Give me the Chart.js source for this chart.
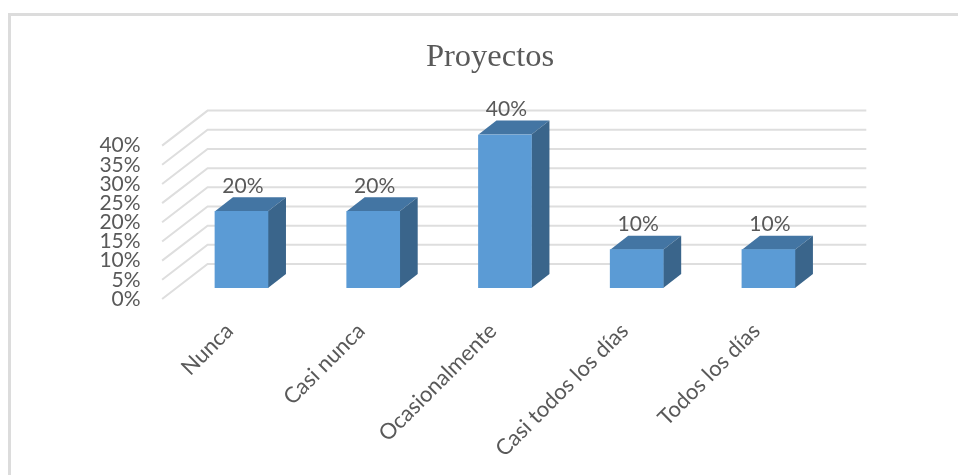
<!DOCTYPE html>
<html>
<head>
<meta charset="utf-8">
<script src="https://cdn.jsdelivr.net/npm/chart.js@4"></script>
<style>
  html, body { margin: 0; background: #fff; }
  #wrap { position: relative; width: 958px; height: 475px; overflow: hidden; }
  #frame { position: absolute; left: 8px; top: 13px; width: 960px; height: 480px;
           border-left: 3px solid #dcdcdc; border-top: 3px solid #dcdcdc; }
</style>
</head>
<body>
<div id="wrap">
  <div id="frame"></div>
  <canvas id="chart" width="958" height="475"></canvas>
</div>
<script>
const categories = ['Nunca', 'Casi nunca', 'Ocasionalmente', 'Casi todos los días', 'Todos los días'];
const values = [20, 20, 40, 10, 10];
const chartTitle = 'Proyectos';

const textColor = '#595959';
const gridColor = '#dedede';

// desplazamiento de la "profundidad" 3D
const barDepthX = 18, barDepthY = 14;
const wallBack = { x: 32, y: -24 };
const wallFront = { x: -13.5, y: 11 };

const fake3d = {
  id: 'fake3d',
  afterLayout(chart) {
    // centrar el titulo como en el original
    chart.titleBlock.left = 145;
    chart.titleBlock.right = 835;
  },
  beforeDatasetsDraw(chart) {
    const { ctx, chartArea, scales: { y } } = chart;
    ctx.save();
    ctx.strokeStyle = gridColor;
    ctx.lineWidth = 2;
    y.ticks.forEach((t, i) => {
      const py = y.getPixelForTick(i);
      ctx.beginPath();
      ctx.moveTo(chartArea.left + wallFront.x, py + wallFront.y);
      ctx.lineTo(chartArea.left + wallBack.x, py + wallBack.y);
      ctx.lineTo(chartArea.right + wallBack.x, py + wallBack.y);
      ctx.stroke();
    });
    // caras superior y lateral
    chart.getDatasetMeta(0).data.forEach(bar => {
      const l = bar.x - bar.width / 2, r = bar.x + bar.width / 2;
      ctx.fillStyle = '#4375a3';
      ctx.beginPath();
      ctx.moveTo(l, bar.y);
      ctx.lineTo(l + barDepthX, bar.y - barDepthY);
      ctx.lineTo(r + barDepthX, bar.y - barDepthY);
      ctx.lineTo(r, bar.y);
      ctx.closePath();
      ctx.fill();
      ctx.fillStyle = '#3a658b';
      ctx.beginPath();
      ctx.moveTo(r, bar.y);
      ctx.lineTo(r + barDepthX, bar.y - barDepthY);
      ctx.lineTo(r + barDepthX, bar.base - barDepthY);
      ctx.lineTo(r, bar.base);
      ctx.closePath();
      ctx.fill();
    });
    ctx.restore();
  },
  afterDatasetsDraw(chart) {
    const { ctx } = chart;
    ctx.save();
    ctx.fillStyle = textColor;
    ctx.font = '21px Lato';
    ctx.textAlign = 'center';
    ctx.textBaseline = 'middle';
    chart.getDatasetMeta(0).data.forEach((bar, i) => {
      ctx.fillText(values[i] + '%', bar.x + 1.5, bar.y - 25);
    });
    ctx.restore();
  }
};

new Chart(document.getElementById('chart'), {
  type: 'bar',
  data: {
    labels: categories,
    datasets: [{
      data: values,
      backgroundColor: '#5b9bd5',
      barThickness: 53
    }]
  },
  options: {
    responsive: false,
    animation: false,
    layout: { padding: { left: 95, right: 123.7, top: 0, bottom: 0 } },
    plugins: {
      legend: { display: false },
      tooltip: { enabled: false },
      title: {
        display: true,
        text: chartTitle,
        color: textColor,
        font: { family: 'Liberation Serif', size: 32.5, weight: 'normal' },
        padding: { top: 37.5, bottom: 58.1 }
      }
    },
    scales: {
      x: {
        grid: { display: false, drawTicks: false },
        border: { display: false },
        afterFit(scale) { scale.height = 187; },
        ticks: {
          color: textColor,
          font: { family: 'Lato', size: 22 },
          minRotation: 45,
          maxRotation: 45,
          autoSkip: false,
          padding: 30,
          labelOffset: -12
        }
      },
      y: {
        min: 0,
        max: 40,
        grid: { display: false, drawTicks: false },
        border: { display: false },
        afterFit(scale) { scale.width = 80.6; },
        ticks: {
          stepSize: 5,
          autoSkip: false,
          color: textColor,
          font: { family: 'Lato', size: 21 },
          padding: 35,
          labelOffset: 11,
          callback: v => v + '%'
        }
      }
    }
  },
  plugins: [fake3d]
});
</script>
</body>
</html>
